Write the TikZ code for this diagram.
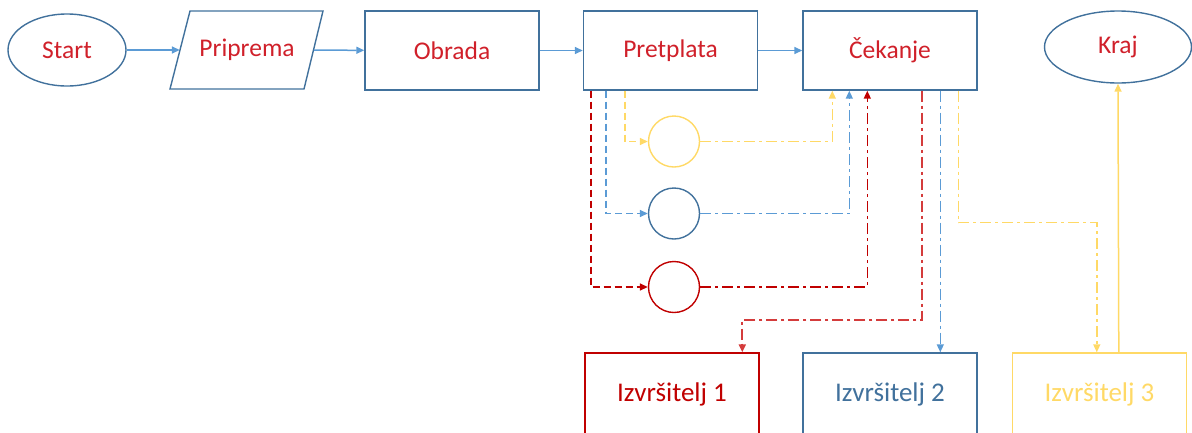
\documentclass[tikz,border=0pt]{standalone}
\usepackage{fontspec}
\setmainfont{Carlito}
\usetikzlibrary{arrows.meta,calc,shapes.geometric}

\definecolor{boxblue}{HTML}{41719C}
\definecolor{lineblue}{HTML}{5B9BD5}
\definecolor{txtred}{RGB}{208,32,42}
\definecolor{darkred}{HTML}{C00000}
\definecolor{softred}{RGB}{212,60,60}
\definecolor{gold}{HTML}{FFD966}

\tikzset{
  lbl/.style={font=\fontsize{25.5}{30}\selectfont},
  proc/.style={lbl, draw=boxblue, line width=1.4pt, rectangle,
    minimum width=174pt, minimum height=79pt, text=txtred},
  term/.style={lbl, draw=boxblue, line width=1.4pt, ellipse, text=txtred},
  worker/.style={font=\fontsize{27}{32}\selectfont, rectangle, line width=1.4pt,
    minimum width=174pt, minimum height=82pt},
  pool/.style={circle, line width=1.4pt, minimum size=51pt, inner sep=0pt},
  tip/.style={-{Triangle[length=8pt,width=7pt]}},
  flow/.style={tip, draw=lineblue, line width=1.5pt},
  dsh/.style={tip, line width=1.5pt, dash pattern=on 7pt off 4pt},
  ddot/.style={tip, line width=1.5pt, dash pattern=on 11pt off 4pt on 3pt off 4pt},
}

\begin{document}
\begin{tikzpicture}[x=1pt,y=-1pt]
\useasboundingbox (0,0) rectangle (1192,432);

% main flow
\node[term, minimum width=118pt, minimum height=72pt] (start) at (67,50) {Start};
% input/output step: text node plus its parallelogram outline
\node[lbl, text=txtred, minimum width=134pt, minimum height=78pt] (prip) at (247,50) {Priprema};
\draw[boxblue, line width=1.4pt] (190,11) -- (323,11) -- (304,89) -- (170,89) -- cycle;
\node[proc] (obr) at (452,50.5) {Obrada};
\node[proc] (pret) at (670.5,50.5) {Pretplata};
\node[proc] (cek) at (890,50.5) {Čekanje};
\node[term, minimum width=147pt, minimum height=72pt] (kraj) at (1118,47) {Kraj};

% queues
\node[pool, draw=gold] (q1) at (674,141.5) {};
\node[pool, draw=boxblue] (q2) at (674,213.5) {};
\node[pool, draw=darkred] (q3) at (674,287) {};

% workers
\node[worker, draw=darkred, text=darkred] (iz1) at (672,394) {Izvršitelj 1};
\node[worker, draw=boxblue, text=boxblue] (iz2) at (890,394) {Izvršitelj 2};
\node[worker, draw=gold, text=gold] (iz3) at (1099.5,394) {Izvršitelj 3};

% top row
\draw[flow] (start) -- (prip);
\draw[flow] (prip) -- (obr);
\draw[flow] (obr) -- (pret);
\draw[flow] (pret) -- (cek);

% subscription into queues
\draw[dsh, draw=gold] ($(pret.south west)+(42,0)$) |- (q1);
\draw[dsh, draw=lineblue] ($(pret.south west)+(23,0)$) |- (q2);
\draw[dsh, draw=darkred] ($(pret.south west)+(8,0)$) |- (q3);

% queues back to waiting
\draw[ddot, draw=gold] (q1) -| ($(cek.south west)+(30,0)$);
\draw[ddot, draw=lineblue] (q2) -| ($(cek.south west)+(47,0)$);
\draw[ddot, draw=darkred] (q3) -| ($(cek.south west)+(65,0)$);

% dispatch to workers
\draw[ddot, draw=softred, line width=1.8pt]
  ($(cek.south west)+(120,0)$) -- ++(0,229) -| ($(iz1.north west)+(158,0)$);
\draw[ddot, draw=lineblue]
  ($(cek.south west)+(138,0)$) -- ($(iz2.north west)+(138,0)$);
\draw[ddot, draw=gold]
  ($(cek.south west)+(156,0)$) -- ++(0,132) -| ($(iz3.north west)+(85,0)$);

% finish
\draw[tip, draw=gold, line width=1.5pt]
  ($(iz3.north west)+(107,0)$) -- (kraj.south);
\end{tikzpicture}
\end{document}
